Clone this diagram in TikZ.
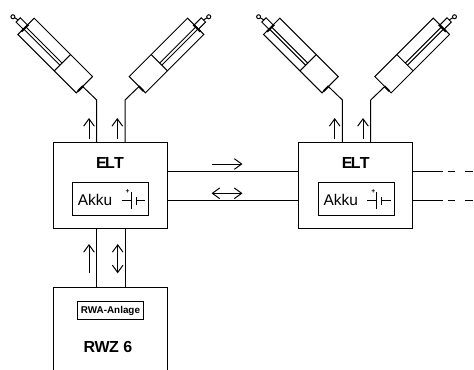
\documentclass[tikz,border=0pt]{standalone}
\usepackage{fontspec}
\setmainfont{Liberation Sans}
\usetikzlibrary{arrows.meta}

\tikzset{
  wire/.style={black,line width=0.75pt},
  flow/.style={black,line width=0.75pt,-{Straight Barb[length=5.5pt,width=8pt]}},
  flowboth/.style={black,line width=0.75pt,{Straight Barb[length=5.5pt,width=8pt]}-{Straight Barb[length=5.5pt,width=8pt]}},
  unitbox/.style={draw=black,line width=0.75pt,inner sep=0pt,outer sep=0pt,minimum width=85.5pt,minimum height=64pt},
  akkubox/.style={draw=black,line width=0.75pt,inner sep=0pt,outer sep=0pt,minimum width=57pt,minimum height=24.5pt},
  actuator/.pic={
    \draw [wire] (0,-11.5) rectangle (82.6,11.5);
    \draw [wire] (51.5,-11.5) -- (51.5,11.5);
    \draw [wire] (0,-3.5) -- (51.5,-3.5);
    \draw [wire] (0,-0.5) -- (51.5,-0.5);
    \draw [black,line width=1.5pt] (0.5,-7) -- (0.5,3);
    \draw [wire] (0,-4) -- (-10,-4) -- (-10,2) -- (0,2);
    \draw [wire] (-16,-2.5) circle (2);
    \draw [wire] (-14,-2) -- (-10,-1);
    \draw [black,line width=1.5pt] (82.6,-9) -- (82.6,-2);
    \coordinate (-port) at (82.6,-2.5);
  },
  cell/.pic={
    \draw [wire] (-9.5,0) -- (0,0);
    \draw [wire] (0,8.3) -- (0,-8.7);
    \draw [wire] (5,3.7) -- (5,-4);
    \draw [wire] (5,0) -- (14,0);
    \node (-plus) [font=\bfseries\fontsize{5}{5}\selectfont,inner sep=0pt] at (-3.5,9) {+};
  }
}

\begin{document}
\begin{tikzpicture}[x=0.75pt,y=0.75pt]
\clip (0,0) rectangle (474,-369);

\node (elt1) [unitbox] at (110,-185.5) {};
\node (elt2) [unitbox] at (355.7,-185.5) {};
\node (rwz) [draw=black,line width=0.75pt,inner sep=0pt,outer sep=0pt,minimum width=85.5pt,minimum height=75pt] at (110,-337.5) {};

\node (eltlabel1) [font=\bfseries\fontsize{12}{12}\selectfont] at (110,-162.5) {E\kern-1.2pt L\kern-0.6pt T};
\node (eltlabel2) [font=\bfseries\fontsize{12}{12}\selectfont] at (355.7,-162.5) {E\kern-1.2pt L\kern-0.6pt T};

\node (akku1) [akkubox] at (110.5,-199.2) {};
\node (akku2) [akkubox] at (356.2,-199.2) {};
\node (akkulabel1) [font=\fontsize{11.6}{12}\selectfont,inner sep=0pt] at (95,-199.5) {Akku};
\node (akkulabel2) [font=\fontsize{11.6}{12}\selectfont,inner sep=0pt] at (340.7,-199.5) {Akku};
\pic (cell1) at (131,-200.5) {cell};
\pic (cell2) at (376.7,-200.5) {cell};

\node (anlage) [draw=black,line width=0.75pt,inner sep=0pt,outer sep=0pt,minimum width=50pt,minimum height=13.5pt,font=\bfseries\fontsize{7.4}{7.4}\selectfont] at (110.5,-310.5) {RWA-Anlage};
\node (rwzlabel) [font=\bfseries\fontsize{12}{12}\selectfont,inner sep=0pt] at (108,-347) {R\kern-0.4pt W\kern-0.4pt Z 6};

\pic (act1) at (26,-26.3) [rotate=-45] {actuator};
\pic (act2) at (195.7,-26.3) [xscale=-1,rotate=-45] {actuator};
\pic (act3) at (271.7,-26.3) [rotate=-45] {actuator};
\pic (act4) at (441.4,-26.3) [xscale=-1,rotate=-45] {actuator};

\coordinate (knee1) at (96.7,-100);
\coordinate (knee2) at (125,-100);
\coordinate (knee3) at (342.4,-100);
\coordinate (knee4) at (370.7,-100);
\draw [wire] (act1-port) -- (knee1) -- (knee1 |- elt1.north);
\draw [wire] (act2-port) -- (knee2) -- (knee2 |- elt1.north);
\draw [wire] (act3-port) -- (knee3) -- (knee3 |- elt2.north);
\draw [wire] (act4-port) -- (knee4) -- (knee4 |- elt2.north);

\draw [wire] (knee1 |- elt1.south) -- (knee1 |- rwz.north);
\draw [wire] (knee2 |- elt1.south) -- (knee2 |- rwz.north);

\coordinate (bus1) at (0,-171.7);
\coordinate (bus2) at (0,-200.7);
\coordinate (end1) at (474,-171.7);
\coordinate (end2) at (474,-200.7);
\draw [wire] (elt1.east |- bus1) -- (elt2.west |- bus1);
\draw [wire] (elt1.east |- bus2) -- (elt2.west |- bus2);
\draw [wire,dash pattern=on 22.5pt off 3.8pt on 5.6pt off 7pt on 6pt off 9pt] (elt2.east |- bus1) -- (end1);
\draw [wire,dash pattern=on 22.5pt off 3.8pt on 5.6pt off 7pt on 6pt off 9pt] (elt2.east |- bus2) -- (end2);

\foreach \name/\x/\ya/\yb in {up1/89/-139/-118,up2/117.3/-139/-118,up3/334.7/-139/-118,up4/363/-139/-118,up5/89/-273.3/-244}{
  \coordinate (\name a) at (\x,\ya);
  \coordinate (\name b) at (\x,\yb);
  \draw [flow] (\name a) -- (\name b);
}
\coordinate (sig1a) at (211.5,-164);
\coordinate (sig1b) at (242.5,-164);
\coordinate (sig2a) at (211.5,-193.3);
\coordinate (sig2b) at (242.5,-193.3);
\coordinate (sig3a) at (117.7,-244);
\coordinate (sig3b) at (117.7,-273.3);
\draw [flow] (sig1a) -- (sig1b);
\draw [flowboth] (sig2a) -- (sig2b);
\draw [flowboth] (sig3a) -- (sig3b);
\end{tikzpicture}
\end{document}
